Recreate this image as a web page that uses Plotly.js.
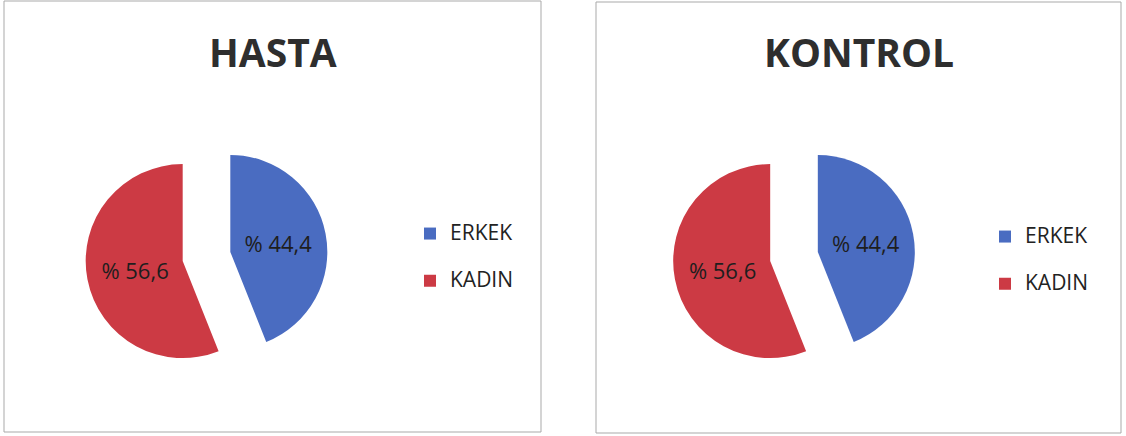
<!DOCTYPE html>
<html>
<head>
<meta charset="utf-8">
<script src="https://cdn.plot.ly/plotly-3.0.1.min.js"></script>
<style>html,body{margin:0;padding:0;background:#fff;}#chart{width:1126px;height:436px;}</style>
</head>
<body>
<div id="chart"></div>
<script>
// ---- data ----
var categories = ['ERKEK', 'KADIN'];
var hastaValues = [44.4, 56.6];
var kontrolValues = [44.4, 56.6];
var panelTitles = ['HASTA', 'KONTROL'];
var sliceColors = ['#4a6cc1', '#cc3a44'];

function pct(v) { return '% ' + v.toFixed(1).replace('.', ','); }

var W = 1126, H = 436;
function px(x) { return x / W; }
function py(y) { return 1 - y / H; }

var R = 97, PULL = 0.25, HALF = R * (1 + PULL);
function dom(cx, cy) {
  return { x: [px(cx - HALF), px(cx + HALF)], y: [py(cy + HALF), py(cy - HALF)] };
}

function pieTrace(values, cx, cy, legendId, group) {
  return {
    type: 'pie',
    labels: categories.map(function (c) { return '<span style="font-size:21px">' + c + '</span><br> '; }),
    values: values,
    text: values.map(pct),
    textinfo: 'text',
    textposition: 'inside',
    insidetextorientation: 'horizontal',
    textfont: { family: 'Open Sans, sans-serif', size: 22, color: '#1e1e1e' },
    sort: false,
    direction: 'clockwise',
    rotation: 0,
    pull: [PULL, PULL],
    marker: { colors: sliceColors, line: { width: 0 } },
    domain: dom(cx, cy),
    legend: legendId,
    legendgroup: group,
    hoverinfo: 'text'
  };
}

var data = [
  pieTrace(hastaValues, 206.5, 256.5, 'legend', 'hasta'),
  pieTrace(kontrolValues, 794, 256.5, 'legend2', 'kontrol')
];

var legendBase = {
  font: { family: 'Open Sans, sans-serif', size: 17, color: '#222' },
  bgcolor: 'rgba(0,0,0,0)',
  xanchor: 'left', yanchor: 'top',
  valign: 'top',
  itemclick: false, itemdoubleclick: false
};

var layout = {
  width: W, height: H,
  margin: { l: 0, r: 0, t: 0, b: 0 },
  paper_bgcolor: '#fff',
  showlegend: true,
  legend: Object.assign({}, legendBase, { x: px(410), y: py(216) }),
  legend2: Object.assign({}, legendBase, { x: px(985), y: py(219) }),
  shapes: [
    { type: 'rect', xref: 'paper', yref: 'paper', x0: px(4), x1: px(541), y0: py(432), y1: py(1), line: { color: '#a9a9a9', width: 1 } },
    { type: 'rect', xref: 'paper', yref: 'paper', x0: px(596), x1: px(1121), y0: py(433), y1: py(2), line: { color: '#a9a9a9', width: 1 } }
  ],
  annotations: [
    { text: '<b>' + panelTitles[0] + '</b>', xref: 'paper', yref: 'paper', x: px(273), y: py(51), showarrow: false, xanchor: 'center', yanchor: 'middle', font: { family: 'Open Sans, sans-serif', size: 39, color: '#2e2e2e' } },
    { text: '<b>' + panelTitles[1] + '</b>', xref: 'paper', yref: 'paper', x: px(859), y: py(51), showarrow: false, xanchor: 'center', yanchor: 'middle', font: { family: 'Open Sans, sans-serif', size: 39, color: '#2e2e2e' } }
  ]
};

Plotly.newPlot('chart', data, layout, { displayModeBar: false, staticPlot: true });
</script>
</body>
</html>
